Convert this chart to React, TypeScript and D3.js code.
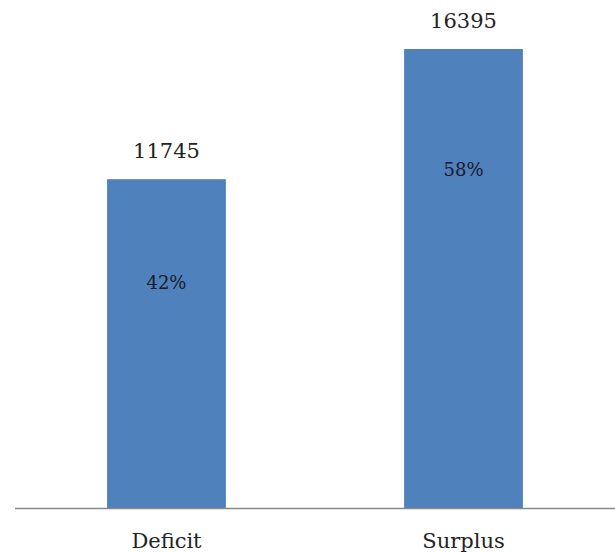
import React from 'react';
import * as d3 from 'd3';

const categories = ['Deficit', 'Surplus'];
const values = [11745, 16395];
const shares = ['42%', '58%'];

const W = 615;
const H = 552;
const margin = { top: 49, right: 0, bottom: 44, left: 15 };
const baseline = H - margin.bottom;

export default function App() {
  const x = d3.scaleBand<string>()
    .domain(categories)
    .range([margin.left, W])
    .paddingInner(0.6)
    .paddingOuter(0.31);

  const y = d3.scaleLinear()
    .domain([0, d3.max(values) as number])
    .range([baseline, margin.top]);

  const font = 'DejaVu Serif';

  return (
    <svg width={W} height={H} style={{ position: 'absolute', left: 0, top: 0, background: '#fff' }}>
      {categories.map((c, i) => {
        const bx = x(c) as number;
        const cx = bx + x.bandwidth() / 2;
        const top = y(values[i]);
        const h = baseline - top;
        return (
          <g key={c}>
            <rect x={bx} y={top} width={x.bandwidth()} height={h} fill="#4F81BD" />
            <text x={cx} y={top - 21} textAnchor="middle" fontFamily={font} fontSize={21} fill="#222">
              {values[i]}
            </text>
            {/* share label sits a bit lower on the taller bar */}
            <text x={cx} y={top + 67 + h * 0.13} textAnchor="middle" fontFamily={font} fontSize={18} fill="#1a1a2a">
              {shares[i]}
            </text>
            <text x={cx} y={baseline + 40} textAnchor="middle" fontFamily={font} fontSize={21} fill="#222">
              {c}
            </text>
          </g>
        );
      })}
      <line x1={margin.left} x2={W} y1={baseline + 0.5} y2={baseline + 0.5} stroke="#888" strokeWidth={1.5} />
    </svg>
  );
}
